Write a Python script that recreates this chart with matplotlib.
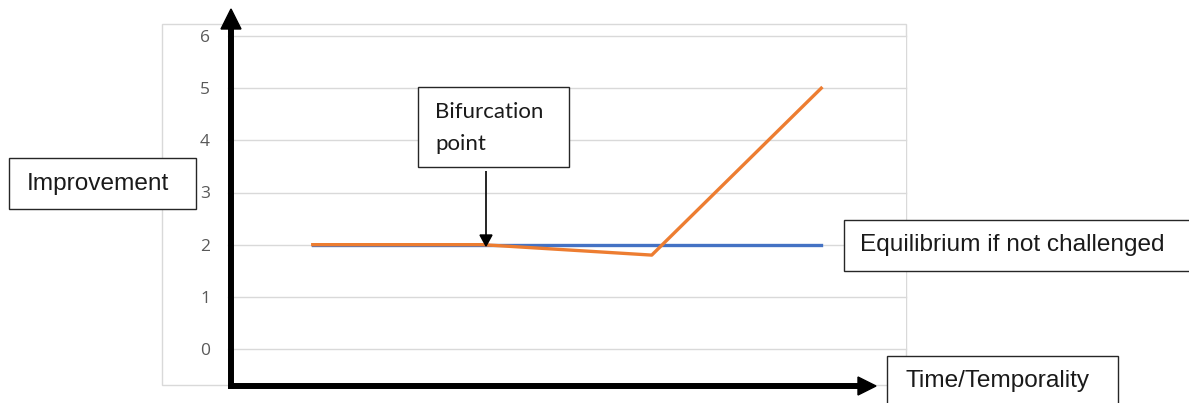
import numpy as np
import matplotlib
matplotlib.use("Agg")
import matplotlib.pyplot as plt
from matplotlib.patches import Rectangle, Polygon
from matplotlib.lines import Line2D

# series values over four unnamed time stages
stages = [0, 1, 2, 3]
equilibrium = [2, 2, 2, 2]
challenged = [2, 2, 1.8, 5]
y_ticks = [0, 1, 2, 3, 4, 5, 6]

W, H = 1189, 403


def fx(x):
    return x / W


def fy(y):
    return 1 - y / H


def box(fig, x0, y0, x1, y1):
    fig.add_artist(Rectangle((fx(x0), fy(y1)), fx(x1) - fx(x0), fy(y0) - fy(y1),
                             transform=fig.transFigure, facecolor="white",
                             edgecolor="#262626", lw=1.0, zorder=5))


def arrow(fig, x0, y0, x1, y1, lw, head_len, head_w):
    # shaft plus a filled triangular head, all in pixel positions
    d = np.array([x1 - x0, y1 - y0], dtype=float)
    d /= np.hypot(*d)
    n = np.array([-d[1], d[0]])
    base = np.array([x1, y1]) - d * head_len
    fig.add_artist(Line2D([fx(x0), fx(base[0])], [fy(y0), fy(base[1])],
                          transform=fig.transFigure, color="black", lw=lw,
                          solid_capstyle="butt", zorder=6))
    pts = [base + n * head_w / 2, base - n * head_w / 2, (x1, y1)]
    fig.add_artist(Polygon([(fx(px), fy(py)) for px, py in pts], closed=True,
                           transform=fig.transFigure, color="black", zorder=6))


fig = plt.figure(figsize=(W / 100, H / 100), dpi=100)

# light chart frame
fig.add_artist(Rectangle((fx(162), fy(385)), fx(906) - fx(162), fy(24) - fy(385),
                         transform=fig.transFigure, fill=False,
                         edgecolor="#d9d9d9", lw=1.0, zorder=0))

ax = fig.add_axes([fx(228), fy(349), fx(906) - fx(228), fy(36) - fy(349)])
ax.plot(stages, equilibrium, color="#4472C4", lw=2.4, zorder=3)
ax.plot(stages, challenged, color="#ED7D31", lw=2.4, zorder=4)
ax.set_xlim(-0.5, 3.5)
ax.set_ylim(0, 6)
ax.set_yticks(y_ticks)
ax.set_xticks([])
ax.yaxis.grid(True, color="#d9d9d9", lw=1.0)
for g in ax.get_ygridlines():
    g.set_clip_on(False)
ax.set_axisbelow(True)
for s in ax.spines.values():
    s.set_visible(False)
ax.tick_params(axis="y", length=0, pad=13, labelsize=12.5, labelcolor="#595959")
for lab in ax.get_yticklabels():
    lab.set_fontfamily("Open Sans")

# thick drawn axes
arrow(fig, 231, 389, 231, 9, 4.3, 20, 20)
arrow(fig, 228, 386, 876, 386, 4.3, 18, 18)

# text boxes
box(fig, 9, 158, 196, 209)
fig.text(fx(27), fy(184), "Improvement", family="Liberation Sans", fontsize=17.6,
         color="#1a1a1a", va="center", ha="left", zorder=7)

box(fig, 418, 87, 569, 167)
fig.text(fx(435), fy(112), "Bifurcation", family="Lato", fontsize=16,
         color="#1a1a1a", va="center", ha="left", zorder=7)
fig.text(fx(435), fy(144), "point", family="Lato", fontsize=16,
         color="#1a1a1a", va="center", ha="left", zorder=7)
arrow(fig, 486, 171, 486, 246, 1.2, 11, 12)

box(fig, 844, 220, 1195, 271)
fig.text(fx(860), fy(245), "Equilibrium if not challenged", family="Liberation Sans",
         fontsize=17.6, color="#1a1a1a", va="center", ha="left", zorder=7)

box(fig, 887, 356, 1118, 410)
fig.text(fx(905), fy(381), "Time/Temporality", family="Liberation Sans",
         fontsize=17.6, color="#1a1a1a", va="center", ha="left", zorder=7)

fig.savefig("out.png", dpi=100)
